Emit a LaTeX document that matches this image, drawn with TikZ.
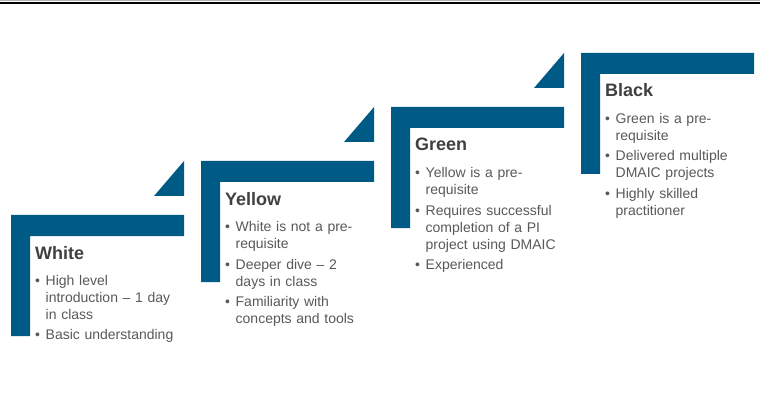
\documentclass[tikz,border=0pt]{standalone}
\usepackage{fontspec}
\setmainfont{Liberation Sans}
\definecolor{stepblue}{RGB}{0,90,134}
\definecolor{titlegray}{RGB}{64,64,64}
\definecolor{bodygray}{RGB}{89,89,89}
\newcommand\bitem[1]{\par\hangindent=10.5pt\hangafter=1\noindent\makebox[10.5pt][l]{\textbullet}#1\par}
\newcommand\bgap{\vskip3.5pt}
\tikzset{
  stepbar/.style={fill=stepblue, draw=none},
  steptitle/.style={anchor=base west, inner sep=0pt, text=titlegray, font=\fontsize{18}{22}\selectfont\bfseries},
  stepbody/.style={anchor=north west, inner sep=0pt, text width=170pt, align=left, text=bodygray, font=\fontsize{14}{17}\selectfont},
}
\begin{document}
\begin{tikzpicture}[x=1pt,y=-1pt]
\useasboundingbox (0,0) rectangle (760,406);
\fill[white] (0,0) rectangle (760,406);
\draw[gray!60, line width=1pt] (0,0.6) -- (760,0.6);
\draw[black, line width=1.7pt] (0,2.8) -- (760,2.8);
\foreach \i/\tri in {0/1,1/1,2/1,3/0} {
  \pgfmathsetmacro\xo{11+190*\i}
  \pgfmathsetmacro\yo{215-54*\i}
  \fill[stepbar] (\xo,\yo) -- ++(173,0) -- ++(0,21) -- ++(-154,0) -- ++(0,100) -- ++(-19,0) -- cycle;
  \ifnum\tri=1
    \fill[stepbar] (\xo+143,\yo-19) -- (\xo+173,\yo-54) -- (\xo+173,\yo-19) -- cycle;
  \fi
}
% White
\node[steptitle] (t1) at (35,259) {White};
\node[stepbody] (b1) at (35,268) {\bitem{High level\newline introduction – 1 day\newline in class}\bgap\bitem{Basic understanding}};
% Yellow
\node[steptitle] (t2) at (225,205) {Yellow};
\node[stepbody] (b2) at (225,214.5) {\bitem{White is not a pre-\newline requisite}\bgap\bitem{Deeper dive – 2\newline days in class}\bgap\bitem{Familiarity with\newline concepts and tools}};
% Green
\node[steptitle] (t3) at (415,151) {Green};
\node[stepbody] (b3) at (415,160.5) {\bitem{Yellow is a pre-\newline requisite}\bgap\bitem{Requires successful\newline completion of a PI\newline project using DMAIC}\bgap\bitem{Experienced}};
% Black
\node[steptitle] (t4) at (605,97) {Black};
\node[stepbody] (b4) at (605,106) {\bitem{Green is a pre-\newline requisite}\bgap\bitem{Delivered multiple\newline DMAIC projects}\bgap\bitem{Highly skilled\newline practitioner}};
\end{tikzpicture}
\end{document}
